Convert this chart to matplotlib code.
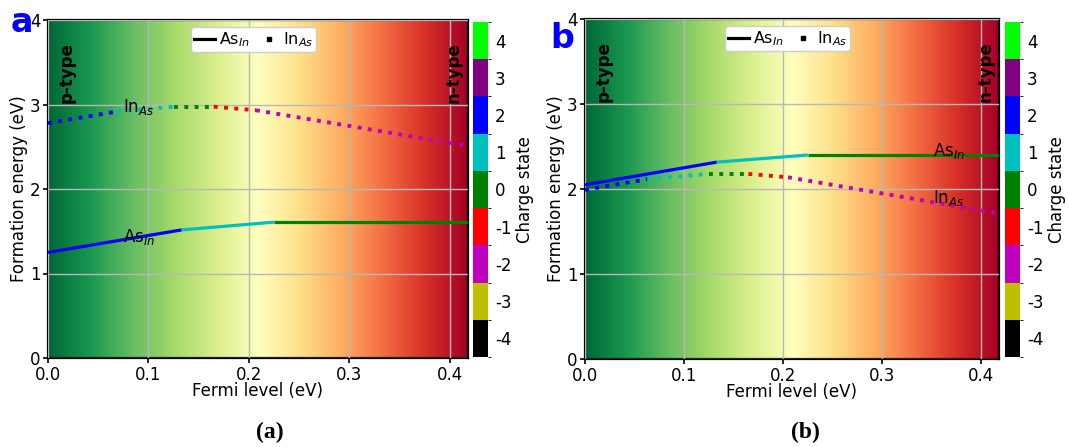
import numpy as np
import matplotlib
matplotlib.use("Agg")
import matplotlib.pyplot as plt
from matplotlib.colors import ListedColormap, BoundaryNorm
from matplotlib.lines import Line2D
from matplotlib.cm import ScalarMappable

plt.rcParams['axes.unicode_minus'] = False
plt.rcParams['font.family'] = ['DejaVu Sans']

# ---------------- data ----------------
x_max = 0.418
charge_states = [-4, -3, -2, -1, 0, 1, 2, 3, 4]
charge_colors = ['black', '#bfbf00', '#bf00bf', 'red', 'green', '#00bfbf', 'blue', 'purple', 'lime']

# Panel a
asin_a_x = [0.0, 0.133, 0.225, 0.418]
asin_a_y = [1.25, 1.516, 1.608, 1.608]
asin_a_q = [2, 1, 0]
inas_a_x = [0.0, 0.069, 0.125, 0.165, 0.207, 0.418]
inas_a_y = [2.78, 2.918, 2.974, 2.974, 2.932, 2.51]
inas_a_q = [2, 1, 0, -1, -2]

# Panel b
asin_b_x = [0.0, 0.133, 0.225, 0.418]
asin_b_y = [2.05, 2.316, 2.40, 2.40]
asin_b_q = [2, 1, 0]
inas_b_x = [0.0, 0.063, 0.125, 0.165, 0.205, 0.418]
inas_b_y = [1.99, 2.116, 2.178, 2.178, 2.138, 1.712]
inas_b_q = [2, 1, 0, -1, -2]

x_ticks = [0.0, 0.1, 0.2, 0.3, 0.4]
y_ticks = [0, 1, 2, 3, 4]

W, H = 1069, 447
fig = plt.figure(figsize=(W / 100, H / 100), dpi=100)

cmap_q = ListedColormap(charge_colors)
norm_q = BoundaryNorm(np.arange(-4.5, 5.5, 1), cmap_q.N)
qcolor = dict(zip(charge_states, charge_colors))
FS = 12


def px_rect(l, t, r, b):
    return [l / W, (H - b) / H, (r - l) / W, (b - t) / H]


def draw_panel(ax, cax, ax_data, label_pos):
    (ax_x, ax_y, ax_q, in_x, in_y, in_q) = ax_data
    grad = np.linspace(0, 1, 256).reshape(1, -1)
    ax.imshow(grad, cmap='RdYlGn_r', aspect='auto', extent=[0, x_max, 0, 4],
              origin='lower', zorder=0)
    ax.set_xlim(0, x_max)
    ax.set_ylim(0, 4)
    ax.set_xticks(x_ticks)
    ax.set_yticks(y_ticks)
    ax.set_xticklabels([f"{v:.1f}" for v in x_ticks])
    ax.grid(True, color='#b8b8b8', lw=1.0, zorder=1)
    ax.set_axisbelow(False)
    for i, q in enumerate(ax_q):
        ax.plot(ax_x[i:i + 2], ax_y[i:i + 2], color=qcolor[q], lw=2.3,
                solid_capstyle='butt', zorder=3)
    for i, q in enumerate(in_q):
        ax.plot(in_x[i:i + 2], in_y[i:i + 2], color=qcolor[q], lw=2.8,
                ls=':', zorder=3)
    ax.tick_params(labelsize=FS, width=1.2, pad=2)
    for s in ax.spines.values():
        s.set_linewidth(1.6)
    ax.set_xlabel('Fermi level (eV)', fontsize=FS, labelpad=-1)
    ax.set_ylabel('Formation energy (eV)', fontsize=FS, labelpad=1)
    ax.text(0.019, 3.74, 'p-type', rotation=90, fontsize=FS, fontweight='bold',
            ha='center', va='top', zorder=4)
    ax.text(0.404, 3.74, 'n-type', rotation=90, fontsize=FS, fontweight='bold',
            ha='center', va='top', zorder=4)
    (ax_lx, ax_ly), (in_lx, in_ly) = label_pos
    ax.text(ax_lx, ax_ly, 'As$_{In}$', fontsize=FS, ha='left', va='center', zorder=4)
    ax.text(in_lx, in_ly, 'In$_{As}$', fontsize=FS, ha='left', va='center', zorder=4)
    handles = [Line2D([], [], color='black', lw=2.3),
               Line2D([], [], color='black', ls='none', marker='s', ms=3.5)]
    ax.legend(handles, ['As$_{In}$', 'In$_{As}$'], loc='upper center', ncol=2,
              fontsize=FS - 0.5, handlelength=1.3, handletextpad=0.25, columnspacing=0.5,
              borderpad=0.2, borderaxespad=0.45, framealpha=1,
              bbox_to_anchor=(0.49, 1.0))
    sm = ScalarMappable(norm=norm_q, cmap=cmap_q)
    cb = fig.colorbar(sm, cax=cax, ticks=charge_states)
    cb.ax.set_yticklabels([str(q) for q in charge_states])
    cb.ax.tick_params(length=0, labelsize=FS, pad=5)
    cb.outline.set_visible(False)
    cb.set_label('Charge state', fontsize=FS, labelpad=3)


ax_a = fig.add_axes(px_rect(48, 20, 468, 358))
cax_a = fig.add_axes(px_rect(473, 22, 488, 357))
draw_panel(ax_a, cax_a, (asin_a_x, asin_a_y, asin_a_q, inas_a_x, inas_a_y, inas_a_q),
           ((0.075, 1.43), (0.075, 2.97)))

ax_b = fig.add_axes(px_rect(585, 19, 999, 359))
cax_b = fig.add_axes(px_rect(1005, 22, 1020, 357))
draw_panel(ax_b, cax_b, (asin_b_x, asin_b_y, asin_b_q, inas_b_x, inas_b_y, inas_b_q),
           ((0.351, 2.45), (0.351, 1.9)))

fig.text(11 / W, (H - 32) / H, 'a', color='blue', fontsize=24, fontweight='bold',
         ha='left', va='baseline')
fig.text(550 / W, (H - 48) / H, 'b', color='blue', fontsize=24, fontweight='bold',
         ha='left', va='baseline')
fig.text(270 / W, (H - 432) / H, '(a)', fontsize=17, fontweight='bold',
         family='Liberation Serif', ha='center', va='center')
fig.text(805 / W, (H - 432) / H, '(b)', fontsize=17, fontweight='bold',
         family='Liberation Serif', ha='center', va='center')

fig.savefig('out.png', dpi=100)
